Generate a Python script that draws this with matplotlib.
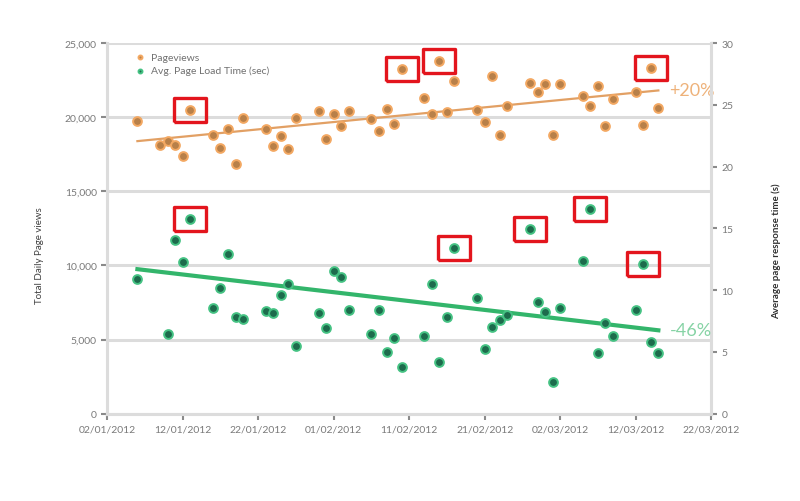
"""Pageviews vs average page load time, Jan-Mar 2012, with trend lines."""
import numpy as np
import pandas as pd
import matplotlib
matplotlib.use('Agg')
import matplotlib.pyplot as plt
import matplotlib.dates as mdates
from matplotlib.path import Path
from matplotlib.ticker import FuncFormatter, MultipleLocator

plt.rcParams['font.family'] = ['Lato', 'DejaVu Sans']

# business days shown in the chart
dates = ['06/01/2012',
         '09/01/2012', '10/01/2012', '11/01/2012', '12/01/2012', '13/01/2012',
         '16/01/2012', '17/01/2012', '18/01/2012', '19/01/2012', '20/01/2012',
         '23/01/2012', '24/01/2012', '25/01/2012', '26/01/2012', '27/01/2012',
         '30/01/2012', '31/01/2012', '01/02/2012', '02/02/2012', '03/02/2012',
         '06/02/2012', '07/02/2012', '08/02/2012', '09/02/2012', '10/02/2012',
         '13/02/2012', '14/02/2012', '15/02/2012', '16/02/2012', '17/02/2012',
         '20/02/2012', '21/02/2012', '22/02/2012', '23/02/2012', '24/02/2012',
         '27/02/2012', '28/02/2012', '29/02/2012', '01/03/2012', '02/03/2012',
         '05/03/2012', '06/03/2012', '07/03/2012', '08/03/2012', '09/03/2012',
         '12/03/2012', '13/03/2012', '14/03/2012', '15/03/2012']

pageviews = [19780,
             18140, 18410, 18100, 17370, 20460,
             18780, 17920, 19220, 16860, 19980,
             19190, 18040, 18750, 17830, 19950,
             20420, 18550, 20240, 19410, 20440,
             19880, 19040, 20580, 19560, 23260,
             21280, 20200, 23830, 20350, 22430,
             20490, 19680, 22770, 18820, 20740,
             22330, 21700, 22260, 18820, 22220,
             21450, 20760, 22080, 19410, 21250,
             21680, 19450, 23330, 20620]

load_time = [10.9,
             np.nan, 6.46, 14.03, 12.28, 15.73,
             8.53, 10.19, 12.95, 7.84, 7.68,
             8.29, 8.16, 9.57, 10.46, 5.51,
             8.11, 6.95, 11.54, 11.05, 8.38,
             6.41, 8.38, 4.97, 6.14, 3.75,
             6.27, 10.52, 4.19, 7.84, 13.44,
             9.38, 5.27, 7.03, 7.56, 7.95,
             14.98, 9.02, 8.21, 2.54, 8.57,
             12.35, 16.6, 4.92, 7.35, 6.27,
             8.38, 12.08, 5.81, 4.92]

# trend line end values as drawn in the chart (first / last day)
pv_trend = [18390, 21810]
lt_trend = [11.7, 6.75]
pv_change = '+20%'
lt_change = '-46%'

hl_pageviews = ['13/01/2012', '10/02/2012', '15/02/2012', '14/03/2012']
hl_load = ['13/01/2012', '17/02/2012', '27/02/2012', '06/03/2012', '13/03/2012']

x_ticks = ['02/01/2012', '12/01/2012', '22/01/2012', '01/02/2012', '11/02/2012',
           '21/02/2012', '02/03/2012', '12/03/2012', '22/03/2012']

df = pd.DataFrame({'date': pd.to_datetime(dates, format='%d/%m/%Y'),
                   'pv': pageviews, 'lt': load_time})
ticks = pd.to_datetime(x_ticks, format='%d/%m/%Y')

ORANGE_FACE, ORANGE_EDGE = '#b88049', '#f3a862'
GREEN_FACE, GREEN_EDGE = '#1d6b4c', '#45c283'
GRID = '#dcdcdc'

fig = plt.figure(figsize=(8, 5.02), dpi=100)
ax = fig.add_axes([0.134, 0.174, 0.755, 0.738])
ax2 = ax.twinx()

ends = [df['date'].iloc[0], df['date'].iloc[-1]]
ax.plot(ends, pv_trend, color='#e2a064', lw=1.6, zorder=2)
ax.annotate(pv_change, (ends[1], pv_trend[1]), xytext=(8, 0), textcoords='offset points',
            va='center', ha='left', fontsize=13, color='#eeb27a')
ax2.plot(ends, lt_trend, color='#33b56b', lw=3.0, zorder=2)
ax2.annotate(lt_change, (ends[1], lt_trend[1]), xytext=(8, 0), textcoords='offset points',
             va='center', ha='left', fontsize=13, color='#86d3a5')

pv_h = ax.scatter(df['date'], df['pv'], s=40, c=ORANGE_FACE, edgecolors=ORANGE_EDGE,
                  linewidths=1.4, zorder=3, label='Pageviews')
lt_h = ax2.scatter(df['date'], df['lt'], s=40, c=GREEN_FACE, edgecolors=GREEN_EDGE,
                   linewidths=1.4, zorder=3, label='Avg. Page Load Time (sec)')

# red highlight boxes
box = Path([(-1.3, -1), (1.3, -1), (1.3, 1), (-1.3, 1), (-1.3, -1)])
sel = df[df['date'].isin(pd.to_datetime(hl_pageviews, format='%d/%m/%Y'))]
ax.plot(sel['date'], sel['pv'], ls='none', marker=box, ms=23, mfc='none',
        mec='#e3151d', mew=2.4, zorder=4)
sel2 = df[df['date'].isin(pd.to_datetime(hl_load, format='%d/%m/%Y'))]
ax2.plot(sel2['date'], sel2['lt'], ls='none', marker=box, ms=23, mfc='none',
         mec='#e3151d', mew=2.4, zorder=4)

# axes
ax.set_xlim(ticks[0], ticks[-1])
ax.set_xticks(ticks)
ax.xaxis.set_major_formatter(mdates.DateFormatter('%d/%m/%Y'))
ax.set_ylim(0, 25000)
ax.yaxis.set_major_locator(MultipleLocator(5000))
ax.yaxis.set_major_formatter(FuncFormatter(lambda v, p: f'{int(v):,}'))
ax2.set_ylim(0, 30)
ax2.yaxis.set_major_locator(MultipleLocator(5))

ax.grid(axis='y', color=GRID, lw=2.2)
ax.set_axisbelow(True)
for a_ in (ax, ax2):
    for s in a_.spines.values():
        s.set_color(GRID)
        s.set_linewidth(2.2)
    a_.spines['top'].set_visible(False)
    a_.tick_params(colors='#8a8a8a', labelsize=7.5, length=4, width=1.5)
    a_.tick_params(axis='both', labelcolor='#7a7a7a')

ax.set_ylabel('Total Daily Page views', fontsize=7, color='#404040')
ax.yaxis.set_label_coords(-0.105, 0.43)
ax2.set_ylabel('Average page response time (s)', fontsize=7, color='#303030',
               fontweight='bold')
ax2.yaxis.set_label_coords(1.1, 0.44)

ax.legend(handles=[pv_h, lt_h], loc='upper left', bbox_to_anchor=(0.03, 0.985),
          frameon=False, fontsize=7.5, labelcolor='#707070', handletextpad=0.1,
          markerscale=0.45, labelspacing=0.35, borderaxespad=0)

fig.savefig('out.png', dpi=100)
